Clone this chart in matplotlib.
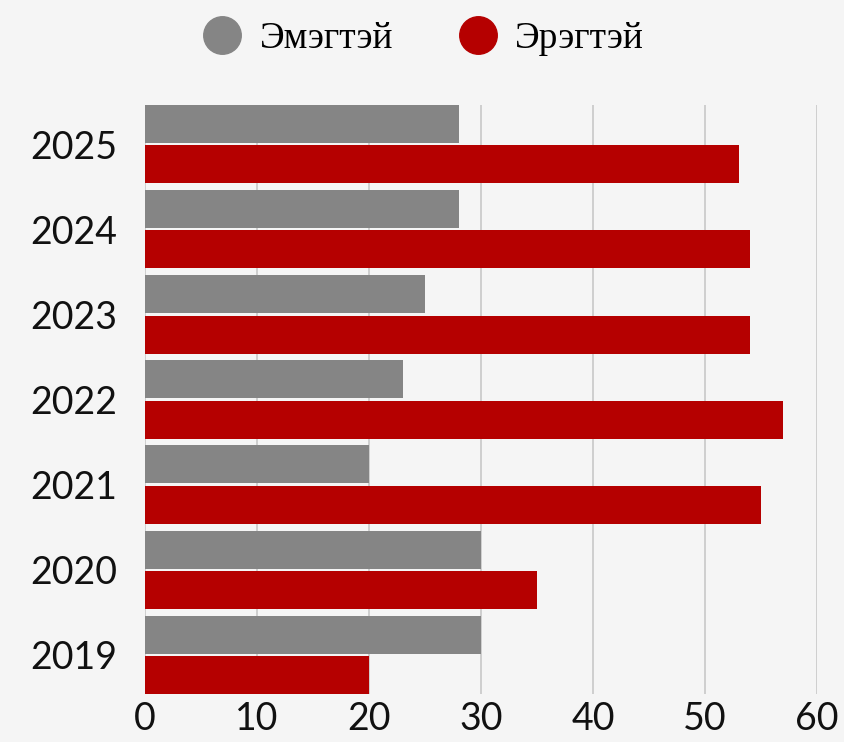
import matplotlib
matplotlib.use("Agg")
import matplotlib.pyplot as plt
from matplotlib.lines import Line2D
import numpy as np

years = ["2019", "2020", "2021", "2022", "2023", "2024", "2025"]
female = [30, 30, 20, 23, 25, 28, 28]   # Эмэгтэй
male = [20, 35, 55, 57, 54, 54, 53]     # Эрэгтэй
series_names = ["Эмэгтэй", "Эрэгтэй"]
colors = ["#858585", "#b50000"]
xticks = [0, 10, 20, 30, 40, 50, 60]

bg = "#f5f5f5"
fig = plt.figure(figsize=(8.45, 7.42), dpi=100, facecolor=bg)
ax = fig.add_axes([145/845, 1-694/742, (817-145)/845, (694-105)/742], facecolor=bg)

y = np.arange(len(years))
h = 0.447
off = 0.237
ax.barh(y + off, female, height=h, color=colors[0], zorder=3)
ax.barh(y - off, male, height=h, color=colors[1], zorder=3)

ax.set_xlim(0, 60)
ax.set_ylim(-0.46, 6.46)
ax.set_xticks(xticks)
ax.set_xticklabels([str(t) for t in xticks])
ax.set_yticks(y)
ax.set_yticklabels(years)
ax.xaxis.grid(True, color="#c8c8c8", linewidth=1.2, zorder=0)
ax.set_axisbelow(True)
for s in ax.spines.values():
    s.set_visible(False)
ax.tick_params(axis="both", length=0, labelsize=27, colors="#111111")
ax.tick_params(axis="y", pad=20)
ax.tick_params(axis="x", pad=5)
for lbl in ax.get_xticklabels() + ax.get_yticklabels():
    lbl.set_fontfamily("Lato")

handles = [Line2D([0], [0], marker="o", linestyle="none", markersize=27,
                  markerfacecolor=c, markeredgecolor=c) for c in colors]
fig.legend(handles, series_names, loc="center", bbox_to_anchor=(422/845, 1-39/742),
           ncol=2, frameon=False, prop={"family": "Liberation Serif", "size": 27},
           handletextpad=0.4, columnspacing=1.66, handlelength=1.2)

fig.savefig("out.png", dpi=100, facecolor=bg)
